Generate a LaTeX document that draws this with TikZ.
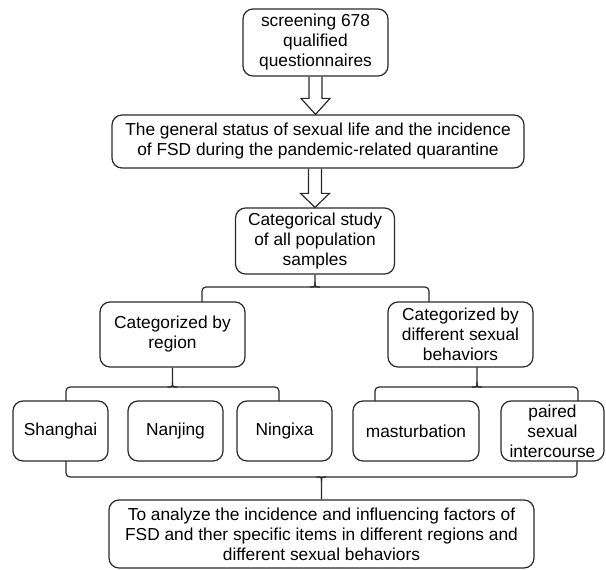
\documentclass[tikz,border=0pt]{standalone}
\usepackage{fontspec}
\setmainfont{Liberation Sans}
\usetikzlibrary{calc}
\definecolor{linec}{HTML}{2A2A2A}
\begin{document}
\begin{tikzpicture}[x=0.75pt,y=-0.75pt,
  box/.style={draw=linec, line width=0.9pt, rounded corners=7.5pt, align=center,
    font=\fontsize{13}{15}\selectfont, inner sep=0pt, text=black},
  sz/.style 2 args={minimum width=#1*0.75pt, minimum height=#2*0.75pt},
  conn/.style={draw=linec, line width=0.9pt},
  barc/.style={conn, rounded corners=3pt}]
\useasboundingbox (0,0) rectangle (606,570);

\node[box, sz={145}{67}] (b1) at (315.5,42.5) {screening 678\\qualified\\questionnaires};
\node[box, sz={412}{53}] (b2) at (318,141.5) {The general status of sexual life and the incidence\\of FSD during the pandemic-related quarantine};
\node[box, sz={159}{66}] (b3) at (315,241) {Categorical study\\of all population\\samples};
\node[box, sz={145}{65}] (b4) at (172.5,334.5) {Categorized by\\region};
\node[box, sz={145}{65}] (b5) at (460.5,334.5) {Categorized by\\different sexual\\behaviors};
\node[box, sz={95}{60}] (s1) at (60.5,431) {Shanghai};
\node[box, sz={95}{60}] (s2) at (175.5,431) {Nanjing};
\node[box, sz={95}{60}] (s3) at (284.5,431) {Ningixa};
\node[box, sz={126}{60}] (s4) at (416,431) {masturbation};
\node[box, sz={103}{60}] (s5) at (552.5,431) {paired\\sexual\\intercourse};
\node[box, sz={425}{68}] (b6) at (321.5,534) {To analyze the incidence and influencing factors of\\FSD and ther specific items in different regions and\\different sexual behaviors};

% block arrows
\draw[conn, line join=miter]
  ($(b1.south)+(-6.5,0)$) -- ($(b1.south |- b2.north)+(-6.5,-16)$)
  -- ($(b1.south |- b2.north)+(-14.5,-16)$) -- (b1.south |- b2.north)
  -- ($(b1.south |- b2.north)+(14.5,-16)$) -- ($(b1.south |- b2.north)+(6.5,-16)$)
  -- ($(b1.south)+(6.5,0)$);
\draw[conn, line join=miter]
  ($(b3.north |- b2.south)+(-6.5,0)$) -- ($(b3.north)+(-6.5,-14)$)
  -- ($(b3.north)+(-14.5,-14)$) -- (b3.north)
  -- ($(b3.north)+(14.5,-14)$) -- ($(b3.north)+(6.5,-14)$)
  -- ($(b3.north |- b2.south)+(6.5,0)$);

% bracket 1
\coordinate (k1l) at (202,302);
\coordinate (k1r) at (429,302);
\draw[barc] (k1l) -- (202,287) -- (429,287) -- (k1r);
\draw[conn] (b3.south) -- (315,282) .. controls (315,287) .. (310,287);
\draw[conn] (315,282) .. controls (315,287) .. (320,287);

% bracket 2 (region)
\coordinate (k2l) at (66,401);
\coordinate (k2r) at (279,401);
\draw[barc] (k2l) -- (66,387) -- (279,387) -- (k2r);
\draw[conn] (b4.south) -- (172.5,382) .. controls (172.5,387) .. (167.5,387);
\draw[conn] (172.5,382) .. controls (172.5,387) .. (177.5,387);

% bracket 3 (behaviors)
\coordinate (k3t) at (477,367);
\coordinate (k3l) at (375,401);
\coordinate (k3r) at (578,401);
\draw[barc] (k3l) -- (375,387) -- (578,387) -- (k3r);
\draw[conn] (k3t) -- (477,382) .. controls (477,387) .. (472,387);
\draw[conn] (477,382) .. controls (477,387) .. (482,387);

% bottom bracket
\coordinate (k4l) at (66,461);
\coordinate (k4r) at (577,461);
\draw[barc] (k4l) -- (66,477) -- (577,477) -- (k4r);
\draw[conn] (b6.north) -- (321.5,482) .. controls (321.5,477) .. (316.5,477);
\draw[conn] (321.5,482) .. controls (321.5,477) .. (326.5,477);
\end{tikzpicture}
\end{document}
